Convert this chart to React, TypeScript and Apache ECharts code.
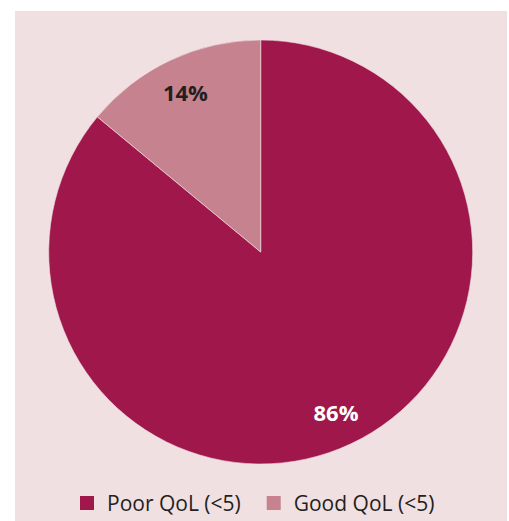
import React, { useEffect, useRef } from "react";
import * as echarts from "echarts";

const categories = ["Poor QoL (<5)", "Good QoL (<5)"];
const values = [86, 14];
const colors = ["#a0174b", "#c6828f"];
const labelColors = ["#ffffff", "#231f20"];

export default function App() {
  const ref = useRef<HTMLDivElement>(null);
  useEffect(() => {
    document.body.style.margin = "0";
    const chart = echarts.init(ref.current!, null, { renderer: "svg" });
    const R = 212;
    const cx = 260.7;
    const cy = 252;
    const data = categories.map((name, i) => ({
      name,
      value: values[i],
      itemStyle: { color: colors[i] },
    }));
    chart.setOption({
      animation: false,
      backgroundColor: "#ffffff",
      graphic: [
        {
          type: "rect",
          z: -10,
          shape: { x: 15, y: 11, width: 492, height: 510 },
          style: { fill: "#f1e0e2" },
        },
      ],
      legend: {
        data: categories,
        left: 78,
        top: 492,
        padding: 0,
        itemWidth: 16,
        itemHeight: 16,
        itemGap: 24,
        icon: "rect",
        selectedMode: false,
        textStyle: {
          fontFamily: "Open Sans",
          fontSize: 21,
          lineHeight: 22,
          color: "#231f20",
          padding: [0, 0, 0, 7],
        },
      },
      series: [
        {
          type: "pie",
          center: [cx, cy],
          radius: [0, R],
          startAngle: 90,
          clockwise: true,
          label: { show: false },
          labelLine: { show: false },
          itemStyle: { borderColor: "#f1e0e2", borderWidth: 0.6 },
          emphasis: { disabled: true },
          data,
        },
        {
          type: "pie",
          center: [cx, cy],
          radius: [R * 0.64, R],
          startAngle: 90,
          clockwise: true,
          silent: true,
          legendHoverLink: false,
          itemStyle: { color: "transparent" },
          emphasis: { disabled: true },
          labelLine: { show: false },
          label: {
            show: true,
            position: "inside",
            fontFamily: "Open Sans",
            fontWeight: "bold",
            fontSize: 22,
            formatter: (p: any) => p.value + "%",
          },
          data: categories.map((name, i) => ({
            name: name + " ",
            value: values[i],
            label: { color: labelColors[i] },
          })),
        },
      ],
    });
    return () => chart.dispose();
  }, []);
  return <div ref={ref} style={{ width: 509, height: 521 }} />;
}
